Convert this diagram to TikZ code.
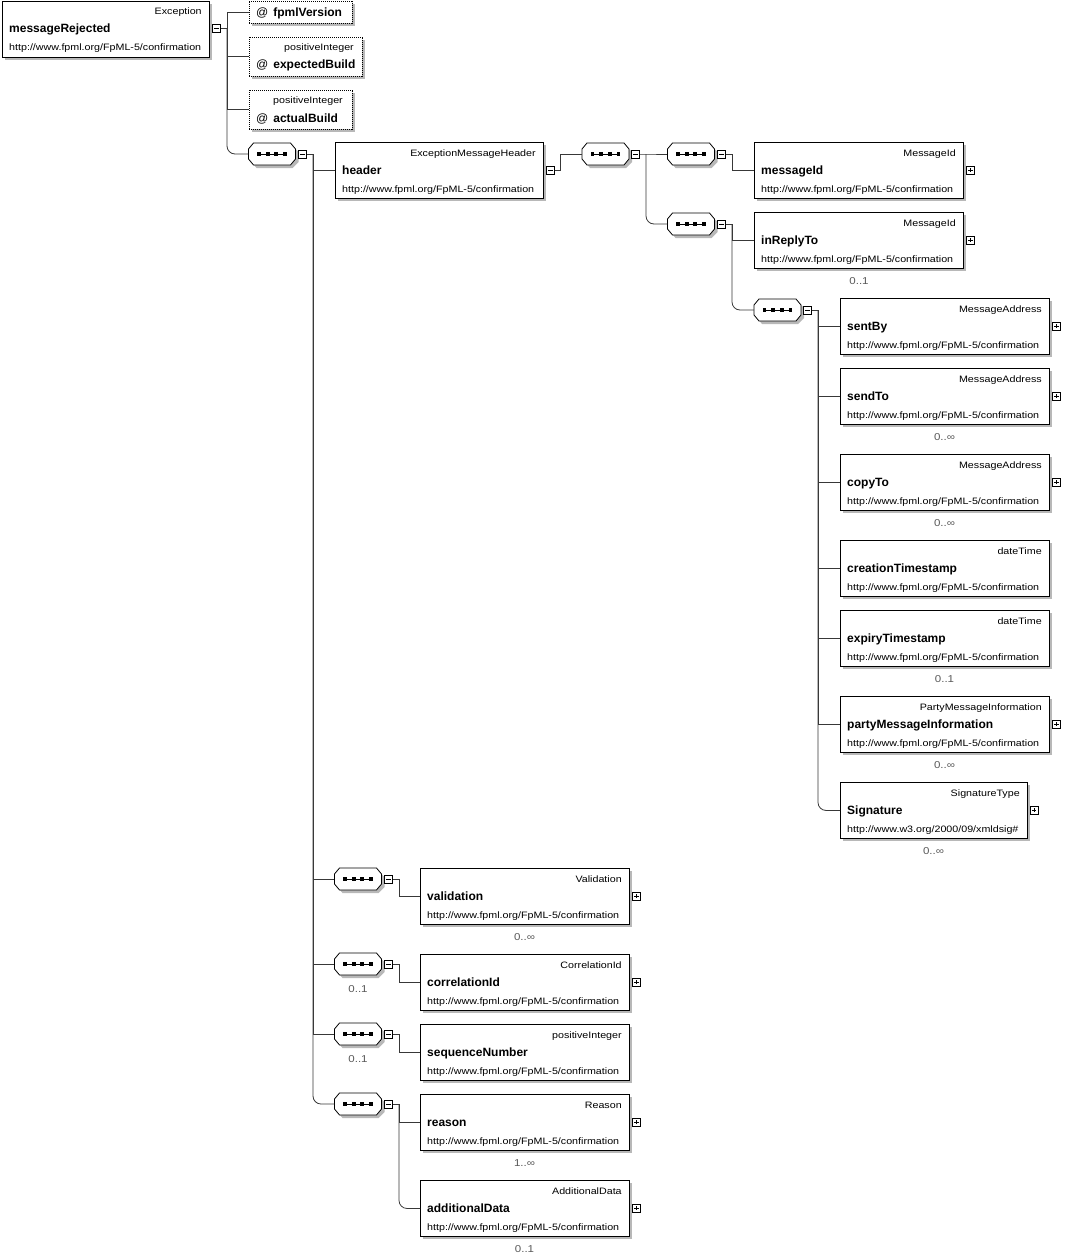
\documentclass[tikz,border=0pt]{standalone}
\usepackage{fontspec}
\setmainfont{Liberation Sans}
\newfontfamily\smallfont[FakeStretch=1.15]{Liberation Sans}
\tikzset{
  conn/.style={draw=black!78, line width=0.8pt},
  elem/.style={draw=black, fill=white, line width=0.9pt, inner sep=0pt, minimum height=56pt, anchor=north west},
  attrbox/.style={draw=black, fill=white, line width=0.9pt, dash pattern=on 1pt off 1pt, inner sep=0pt, anchor=north west},
  shadowfill/.style={fill=black!28},
  typelab/.style={font=\smallfont\fontsize{9.3}{11}\selectfont, inner sep=0pt, anchor=base east},
  namelab/.style={font=\fontsize{12}{14}\selectfont\bfseries, inner sep=0pt, anchor=base west},
  urllab/.style={font=\smallfont\fontsize{9.3}{11}\selectfont, inner sep=0pt, anchor=base west},
  attrlab/.style={font=\fontsize{12}{14}\selectfont, inner sep=0pt, anchor=base west},
  occ/.style={font=\smallfont\fontsize{10}{12}\selectfont, text=black!65, inner sep=0pt, anchor=base},
  signbox/.style={draw=black, fill=white, line width=0.7pt, minimum size=8pt, inner sep=0pt},
  seqbox/.style={minimum width=47pt, minimum height=22pt, inner sep=0pt},
}
% element box: name, left x, top y, width, type, label, url
\newcommand{\elembox}[7]{%
  \fill[shadowfill] ({#2+3},{#3+3}) rectangle ++(#4,56);
  \node[elem, minimum width=#4pt] (#1) at (#2,#3) {};
  \node[typelab] (#1-t) at ([xshift=-8pt,yshift=-14pt]#1.north east) {#5};
  \node[namelab] (#1-n) at ([xshift=7pt,yshift=-32pt]#1.north west) {#6};
  \node[urllab] (#1-u) at ([xshift=7pt,yshift=-50pt]#1.north west) {#7};
}
% sequence compositor: name, cx, cy
\newcommand{\seqnode}[3]{%
  \begin{scope}[shift={(#2,#3)}]
    \fill[shadowfill] (-15.5,-8) -- (20.5,-8) -- (26.5,-2) -- (26.5,8) -- (20.5,14) -- (-15.5,14) -- (-20.5,8) -- (-20.5,-2) -- cycle;
    \draw[fill=white, line width=0.8pt] (-18.5,-11) -- (18.5,-11) -- (23.5,-5) -- (23.5,5) -- (18.5,11) -- (-18.5,11) -- (-23.5,5) -- (-23.5,-5) -- cycle;
    \draw[line width=0.9pt] (-13,0) -- (13,0);
    \foreach \sx in {-13,-4.3,4.3,13} {\fill (\sx-1.9,-1.9) rectangle (\sx+1.9,1.9);}
  \end{scope}
  \node[seqbox] (#1) at (#2,#3) {};
}
\newcommand{\minusbox}[3]{%
  \node[signbox] (#1) at (#2,#3) {};
  \draw[line width=0.7pt] ([xshift=-2.2pt]#1.center) -- ([xshift=2.2pt]#1.center);
}
\newcommand{\plusbox}[3]{%
  \node[signbox] (#1) at (#2,#3) {};
  \draw[line width=0.7pt] ([xshift=-2.2pt]#1.center) -- ([xshift=2.2pt]#1.center);
  \draw[line width=0.7pt] ([yshift=-2.2pt]#1.center) -- ([yshift=2.2pt]#1.center);
}
\def\url{http://www.fpml.org/FpML-5/confirmation}
\begin{document}
\begin{tikzpicture}[x=1pt,y=-1pt]
\useasboundingbox[fill=white] (0,0) rectangle (1090,1258);

% ---------------- root
\elembox{mr}{2}{0.5}{207}{Exception}{messageRejected}{\url}
\minusbox{mrs}{216.5}{28.5}

% attributes
\fill[shadowfill] (252,3.5) rectangle (355,26);
\node[attrbox, minimum width=103pt, minimum height=22.5pt] (a1) at (249,0.5) {};
\node[attrlab] (a1-n) at (256,16.5) {@\hspace{5pt}\textbf{fpmlVersion}};

\fill[shadowfill] (252,39.5) rectangle (365,79);
\node[attrbox, minimum width=113pt, minimum height=39.5pt] (a2) at (249,36.5) {};
\node[typelab] (a2-t) at (354,50) {positiveInteger};
\node[attrlab] (a2-n) at (256,68) {@\hspace{5pt}\textbf{expectedBuild}};

\fill[shadowfill] (252,92.5) rectangle (355,132);
\node[attrbox, minimum width=103pt, minimum height=39.5pt] (a3) at (249,89.5) {};
\node[typelab] (a3-t) at (343,103) {positiveInteger};
\node[attrlab] (a3-n) at (256,122) {@\hspace{5pt}\textbf{actualBuild}};

\seqnode{s0}{272}{154}
\minusbox{s0s}{302.5}{154}

\coordinate (j1) at (227,28.5);
\draw[conn] (mrs.east) -- (j1);
\draw[conn] (j1) |- (a1.west);
\draw[conn] (j1) |- (a2.west);
\draw[conn] (j1) |- (a3.west);
\draw[conn, rounded corners=8pt] (j1) |- (s0.west);

% ---------------- header
\elembox{hd}{335}{142}{208}{ExceptionMessageHeader}{header}{\url}
\minusbox{hds}{550.5}{170}
\seqnode{s1}{605.5}{154}
\minusbox{s1s}{635.5}{154}
\seqnode{s2}{691}{154}
\minusbox{s2s}{721.5}{154}
\seqnode{s3}{691}{224}
\minusbox{s3s}{721.5}{224}

\elembox{mid}{754}{142}{209}{MessageId}{messageId}{\url}
\plusbox{mids}{970.5}{170}
\elembox{irt}{754}{212}{209}{MessageId}{inReplyTo}{\url}
\plusbox{irts}{970.5}{240}
\node[occ] (irt-o) at (859,284) {0..1};

\seqnode{s4}{777.5}{310}
\minusbox{s4s}{807.5}{310}

\coordinate (j2) at (313,154);
\draw[conn] (s0s.east) -- (j2);
\coordinate (j3) at (560,170);
\draw[conn] (hds.east) -- (j3) |- (s1.west);
\coordinate (j4) at (646,154);
\draw[conn] (s1s.east) -- (j4) -- (s2.west);
\draw[conn, rounded corners=8pt] (j4) |- (s3.west);
\coordinate (j5) at (732,154);
\draw[conn] (s2s.east) -- (j5) |- (mid.west);
\coordinate (j6) at (732,224);
\draw[conn] (s3s.east) -- (j6) |- (irt.west);
\draw[conn, rounded corners=8pt] (j6) |- (s4.west);

% ---------------- seq s4 children
\elembox{sb}{840}{298}{209}{MessageAddress}{sentBy}{\url}
\plusbox{sbs}{1056.5}{326}
\elembox{st}{840}{368}{209}{MessageAddress}{sendTo}{\url}
\plusbox{sts}{1056.5}{396}
\node[occ] (st-o) at (944.5,440) {0..∞};
\elembox{ct}{840}{454}{209}{MessageAddress}{copyTo}{\url}
\plusbox{cts}{1056.5}{482}
\node[occ] (ct-o) at (944.5,526) {0..∞};
\elembox{cr}{840}{540}{209}{dateTime}{creationTimestamp}{\url}
\elembox{ex}{840}{610}{209}{dateTime}{expiryTimestamp}{\url}
\node[occ] (ex-o) at (944.5,682) {0..1};
\elembox{pm}{840}{696}{209}{PartyMessageInformation}{partyMessageInformation}{\url}
\plusbox{pms}{1056.5}{724}
\node[occ] (pm-o) at (944.5,768) {0..∞};
\elembox{sg}{840}{782}{187}{SignatureType}{Signature}{http://www.w3.org/2000/09/xmldsig\#}
\plusbox{sgs}{1034}{810}
\node[occ] (sg-o) at (933.5,854) {0..∞};

\coordinate (j7) at (818,310);
\draw[conn] (s4s.east) -- (j7);
\draw[conn] (j7) |- (sb.west);
\draw[conn] (j7) |- (st.west);
\draw[conn] (j7) |- (ct.west);
\draw[conn] (j7) |- (cr.west);
\draw[conn] (j7) |- (ex.west);
\draw[conn] (j7) |- (pm.west);
\draw[conn, rounded corners=8pt] (j7) |- (sg.west);

% ---------------- lower sequences
\seqnode{s5}{358}{879}
\minusbox{s5s}{388.5}{879}
\seqnode{s6}{358}{964}
\minusbox{s6s}{388.5}{964}
\node[occ] (s6-o) at (358,992) {0..1};
\seqnode{s7}{358}{1034}
\minusbox{s7s}{388.5}{1034}
\node[occ] (s7-o) at (358,1062) {0..1};
\seqnode{s8}{358}{1104}
\minusbox{s8s}{388.5}{1104}

\draw[conn] (j2) |- (hd.west);
\draw[conn] (j2) |- (s5.west);
\draw[conn] (j2) |- (s6.west);
\draw[conn] (j2) |- (s7.west);
\draw[conn, rounded corners=8pt] (j2) |- (s8.west);

\elembox{va}{420}{868}{209}{Validation}{validation}{\url}
\plusbox{vas}{636.5}{896}
\node[occ] (va-o) at (524.5,940) {0..∞};
\elembox{ci}{420}{954}{209}{CorrelationId}{correlationId}{\url}
\plusbox{cis}{636.5}{982}
\elembox{sn}{420}{1024}{209}{positiveInteger}{sequenceNumber}{\url}
\elembox{re}{420}{1094}{209}{Reason}{reason}{\url}
\plusbox{res}{636.5}{1122}
\node[occ] (re-o) at (524.5,1166) {1..∞};
\elembox{ad}{420}{1180}{209}{AdditionalData}{additionalData}{\url}
\plusbox{ads}{636.5}{1208}
\node[occ] (ad-o) at (524.5,1252) {0..1};

\coordinate (j8) at (399,879);
\draw[conn] (s5s.east) -- (j8) |- (va.west);
\coordinate (j9) at (399,964);
\draw[conn] (s6s.east) -- (j9) |- (ci.west);
\coordinate (j10) at (399,1034);
\draw[conn] (s7s.east) -- (j10) |- (sn.west);
\coordinate (j11) at (399,1104);
\draw[conn] (s8s.east) -- (j11) |- (re.west);
\draw[conn, rounded corners=8pt] (j11) |- (ad.west);
\end{tikzpicture}
\end{document}
